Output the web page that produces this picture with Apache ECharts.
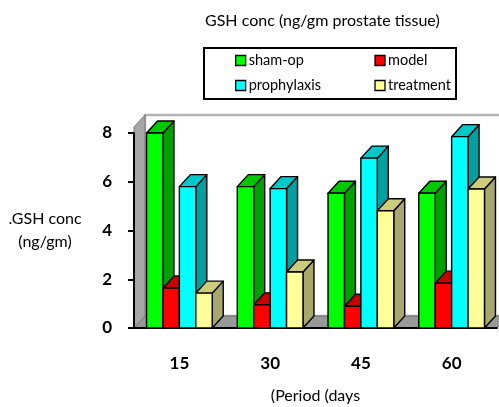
<!DOCTYPE html>
<html>
<head>
<meta charset="utf-8">
<script src="https://cdn.jsdelivr.net/npm/echarts@6/dist/echarts.min.js"></script>
<style>
  html,body{margin:0;padding:0;background:#fff}
  #main{width:499px;height:407px}
</style>
</head>
<body>
<div id="main"></div>
<script>
  // 数据
  var periods = ['15', '30', '45', '60']
  var shamOp = [8.0, 5.8, 5.53, 5.53]
  var model = [1.64, 0.95, 0.89, 1.84]
  var prophylaxis = [5.8, 5.72, 6.97, 7.85]
  var treatment = [1.43, 2.3, 4.81, 5.7]
  var yTicks = [0, 2, 4, 6, 8]

  var DX = 11, DY = 12   // 3D深度偏移
  var BAR = 0.181        // 柱宽(占类目宽度比例)

  var faces = [
    {name: 'sham-op', front: '#00ff00', top: '#00c800', side: '#00a000', data: shamOp},
    {name: 'model', front: '#ff0000', top: '#c80000', side: '#a00000', data: model},
    {name: 'prophylaxis', front: '#00ffff', top: '#00c8c8', side: '#00a0a0', data: prophylaxis},
    {name: 'treatment', front: '#ffff99', top: '#cccc7a', side: '#a8a86c', data: treatment}
  ]

  function bar3d(s) {
    return function (params, api) {
      var top = api.coord([api.value(0), api.value(1)])
      var base = api.coord([api.value(0), 0])
      var catW = api.size([1, 0])[0]
      var bw = catW * BAR
      var x0 = base[0] - 2 * bw + s * bw
      var t = top[1], b = base[1]
      var f = faces[s]
      var line = {stroke: '#000', lineWidth: 1.4, lineJoin: 'round'}
      return {
        type: 'group',
        children: [
          {type: 'polygon', shape: {points: [[x0 + bw, t], [x0 + bw + DX, t - DY], [x0 + bw + DX, b - DY], [x0 + bw, b]]},
            style: Object.assign({fill: f.side}, line)},
          {type: 'polygon', shape: {points: [[x0, t], [x0 + bw, t], [x0 + bw + DX, t - DY], [x0 + DX, t - DY]]},
            style: Object.assign({fill: f.top}, line)},
          {type: 'rect', shape: {x: x0, y: t, width: bw, height: b - t},
            style: Object.assign({fill: f.front}, line)}
        ]
      }
    }
  }

  // 背景墙和地板
  function walls(params, api) {
    var p0 = api.coord([0, 0])
    var catW = api.size([1, 0])[0]
    var left = p0[0] - catW / 2
    var right = left + catW * periods.length
    var b = p0[1]
    var t = api.coord([0, 8.25])[1]
    return {
      type: 'group',
      children: [
        {type: 'polygon', shape: {points: [[left + DX, t - DY], [right + DX + 20, t - DY], [right + DX + 20, b - DY], [left + DX, b - DY]]},
          style: {fill: '#fff', stroke: '#b4b4b4', lineWidth: 2.5}},
        {type: 'polygon', shape: {points: [[left, b], [right, b], [right + DX, b - DY], [left + DX, b - DY]]},
          style: {fill: '#999999', stroke: '#6e6e6e', lineWidth: 1}},
        {type: 'polygon', shape: {points: [[left, b], [left + DX, b - DY], [left + DX, t - DY], [left, t]]},
          style: {fill: '#a6a6a6', stroke: '#7a7a7a', lineWidth: 1}}
      ]
    }
  }

  var series = [{
    type: 'custom', name: 'walls', z: 0, silent: true,
    renderItem: walls, data: [[0, 0]], clip: false
  }]
  faces.forEach(function (f, s) {
    series.push({
      type: 'custom',
      name: f.name,
      z: 2 + s,
      itemStyle: {color: f.front},
      renderItem: bar3d(s),
      clip: false,
      data: f.data.map(function (v, i) { return [i, v] })
    })
  })

  var chart = echarts.init(document.getElementById('main'))
  chart.setOption({
    animation: false,
    textStyle: {fontFamily: 'Lato'},
    title: {
      text: 'GSH conc (ng/gm prostate tissue)',
      left: 205, top: 13, padding: 0,
      textStyle: {fontFamily: 'Lato', fontSize: 16, fontWeight: 'normal', color: '#000'}
    },
    graphic: [{
      type: 'rect', left: 203, top: 47,
      shape: {width: 252, height: 51},
      style: {fill: '#fff', stroke: '#000', lineWidth: 2}
    }],
    legend: {
      data: faces.map(function (f) { return {name: f.name} }),
      left: 235, top: 53, width: 290,
      orient: 'horizontal',
      icon: 'rect', itemWidth: 10, itemHeight: 10, itemGap: 10,
      itemStyle: {borderColor: '#000', borderWidth: 1.3},
      padding: 0, z: 10,
      textStyle: {fontFamily: 'Lato', fontSize: 14.5, color: '#000', width: 115.7, lineHeight: 14, padding: [0, 0, 0, -2]}
    },
    grid: {left: 134, right: 2, top: 133, bottom: 79, containLabel: false, outerBoundsMode: 'none'},
    xAxis: {
      type: 'category',
      data: periods,
      name: '(Period (days',
      nameLocation: 'middle', nameGap: 60,
      nameTextStyle: {fontFamily: 'Lato', fontSize: 16, color: '#000'},
      axisLine: {lineStyle: {color: '#000', width: 2}},
      axisTick: {length: 5, lineStyle: {color: '#000', width: 2}},
      axisLabel: {margin: 27, fontSize: 17, fontWeight: 'bold', color: '#000', fontFamily: 'Lato'}
    },
    yAxis: {
      type: 'value',
      min: yTicks[0], max: yTicks[yTicks.length - 1], interval: 2,
      name: '.GSH conc\n(ng/gm)',
      nameLocation: 'middle', nameRotate: 0, nameGap: 89,
      nameTextStyle: {fontFamily: 'Lato', fontSize: 16, color: '#000', lineHeight: 23, align: 'center', padding: [0, 0, 5, 0]},
      axisLine: {show: true, lineStyle: {color: '#000', width: 2}},
      axisTick: {show: true, length: 6, lineStyle: {color: '#000', width: 2}},
      splitLine: {show: false},
      axisLabel: {margin: 22, fontSize: 17, fontWeight: 'bold', color: '#000', fontFamily: 'Lato'}
    },
    series: series
  })
</script>
</body>
</html>
